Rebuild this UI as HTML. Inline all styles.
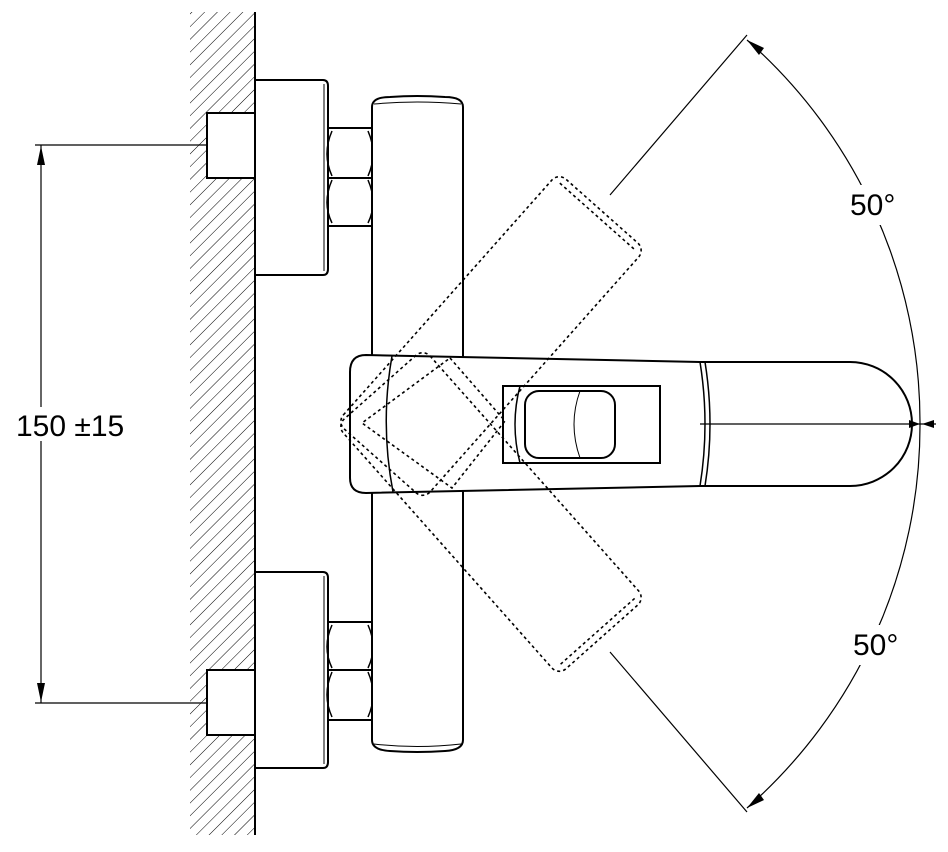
<!DOCTYPE html>
<html><head><meta charset="utf-8"><style>
html,body{margin:0;padding:0;background:#fff;}
svg{display:block;}
text{font-family:"Liberation Sans",Arial,sans-serif;fill:#000;}
</style></head><body>
<svg width="948" height="852" viewBox="0 0 948 852" xmlns="http://www.w3.org/2000/svg">
<defs>
<pattern id="h" width="9" height="9" patternUnits="userSpaceOnUse" patternTransform="rotate(45)">
<line x1="0" y1="0" x2="0" y2="9" stroke="#000" stroke-width="1"/>
</pattern>
</defs>
<!-- wall hatch -->
<rect x="190" y="12" width="65" height="823" fill="url(#h)"/>
<line x1="255" y1="12" x2="255" y2="835" stroke="#000" stroke-width="2"/>

<g fill="#fff" stroke="#000" stroke-width="2">
<!-- upper fitting -->
<rect x="207" y="113" width="48" height="65"/>
<path d="M255 80 H323 Q328 80 328 86 V269 Q328 275 323 275 H255 Z"/>
<line x1="324" y1="84" x2="324" y2="271" stroke-width="1"/>
<rect x="328" y="128" width="44" height="98"/>
<line x1="328" y1="178" x2="372" y2="178"/>
<path d="M332 131 Q322 154 332 176 M368 131 Q378 154 368 176 M332 180 Q322 203 332 223 M368 180 Q378 203 368 223" fill="none" stroke-width="1.5"/>
<!-- lower fitting -->
<rect x="207" y="670" width="48" height="65"/>
<path d="M255 572 H323 Q328 572 328 578 V762 Q328 768 323 768 H255 Z"/>
<line x1="324" y1="576" x2="324" y2="764" stroke-width="1"/>
<rect x="328" y="622" width="44" height="98"/>
<line x1="328" y1="670" x2="372" y2="670"/>
<path d="M332 625 Q322 647 332 668 M368 625 Q378 647 368 668 M332 672 Q322 695 332 717 M368 672 Q378 695 368 717" fill="none" stroke-width="1.5"/>
<!-- vertical body -->
<path d="M372 107 Q372 97 390 97 Q417 95 445 97 Q463 97 463 107 V740 Q463 750 445 751 Q417 753 390 751 Q372 750 372 740 Z"/>
<path d="M374 104 Q417 100 461 104 M374 744 Q417 749 461 744" fill="none" stroke-width="1"/>
<!-- handle -->
<path d="M366 355 L700 362 L850 362 A62 62 0 0 1 850 486 L700 486 L366 493 Q350 493 350 478 L350 372 Q350 355 366 355 Z"/>
<path d="M700 362 Q710 424 700 486 M705 362 Q715 424 705 486" fill="none" stroke-width="1.5"/>
<path d="M392 356 Q380 424 393 492" fill="none" stroke-width="1.5"/>
<path d="M503 386 H660 V463 H503 Z"/>
<path d="M520 386 Q510 424 520 463" fill="none" stroke-width="1.5"/>
<rect x="525" y="391" width="90" height="67" rx="14"/>
<path d="M580 391 Q568 424 580 458" fill="none" stroke-width="1"/>
</g>

<!-- dashed rotated handles -->
<g fill="none" stroke="#000" stroke-width="1.6" stroke-dasharray="3 3">
<g transform="translate(491,336) rotate(-48.4)">
<rect x="-167" y="-58" width="334" height="116" rx="10"/>
<line x1="160" y1="-50" x2="160" y2="50"/>
</g>
<g transform="translate(491,512) rotate(48.4)">
<rect x="-167" y="-58" width="334" height="116" rx="10"/>
<line x1="160" y1="-50" x2="160" y2="50"/>
</g>
<polygon points="450,358 505,421 452,488 362,423"/>
</g>

<!-- angle dimensions -->
<g fill="none" stroke="#000" stroke-width="1.2">
<line x1="610" y1="195" x2="747" y2="35"/>
<line x1="610" y1="652" x2="747" y2="812"/>
<path d="M747 40 A509 509 0 0 1 920 424 A509 509 0 0 1 747 808"/>
<line x1="700" y1="424" x2="936" y2="424"/>
</g>
<rect x="840" y="185" width="70" height="40" fill="#fff"/>
<rect x="840" y="625" width="70" height="40" fill="#fff"/>
<g fill="#000">
<polygon points="747,40 764,48 759,55"/>
<polygon points="747,808 764,800 759,793"/>
<polygon points="920,424 909,420 909,428"/>
<polygon points="922,424 934,420 934,428"/>
</g>
<text x="850" y="215" font-size="30">50°</text>
<text x="853" y="655" font-size="30">50°</text>

<!-- linear dimension -->
<g stroke="#000" stroke-width="1.2">
<line x1="35" y1="145" x2="207" y2="145"/>
<line x1="35" y1="703" x2="207" y2="703"/>
<line x1="41" y1="145" x2="41" y2="703"/>
</g>
<polygon points="41,146 37,165 45,165" fill="#000"/>
<polygon points="41,702 37,683 45,683" fill="#000"/>
<rect x="14" y="407" width="122" height="34" fill="#fff"/>
<text x="16" y="436" font-size="30">150 ±15</text>
</svg>
</body></html>
